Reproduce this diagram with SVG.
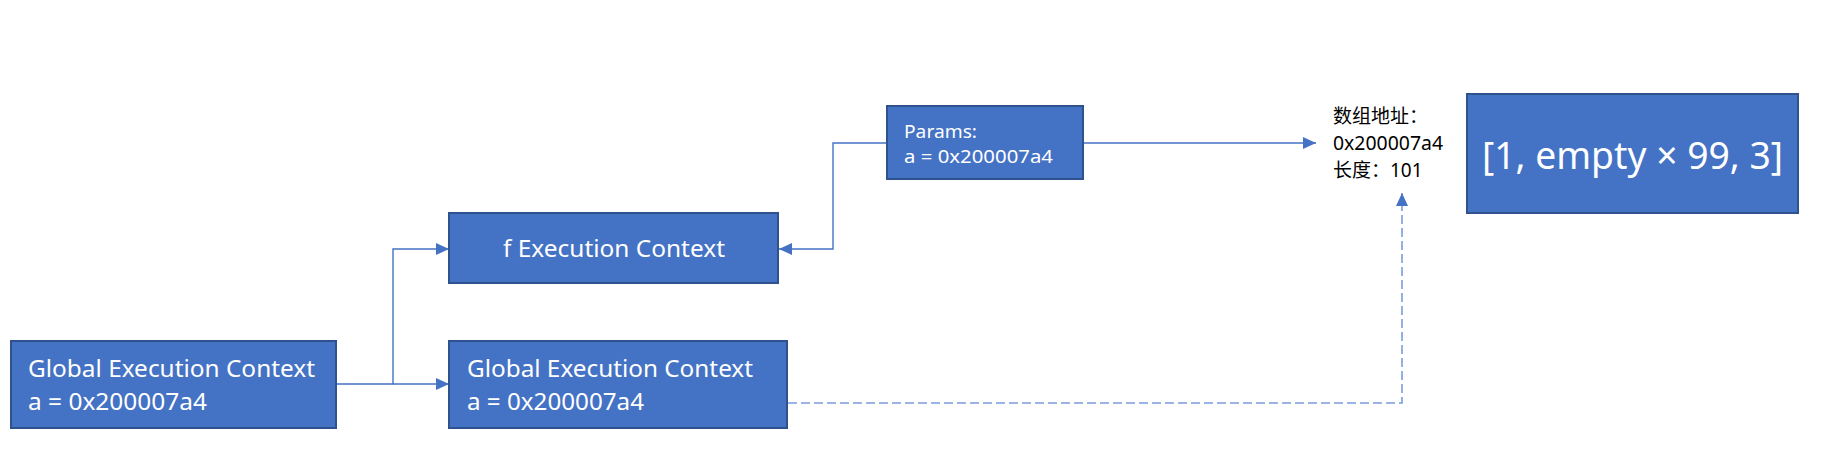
<svg xmlns="http://www.w3.org/2000/svg" width="1843" height="470" viewBox="0 0 1843 470">
<style>
.box{fill:#4472C4;stroke:#2F528F;stroke-width:2}
.t{fill:#FFFFFF;font-family:"Noto Sans","Liberation Sans","Noto Sans CJK SC",sans-serif}
.k{fill:#000000;font-family:"Noto Sans","Liberation Sans","Noto Sans CJK SC",sans-serif;font-size:19px}
.c{fill:none;stroke:#4472C4;stroke-width:1.4}
.d{fill:none;stroke:#7B9CDB;stroke-width:1.6;stroke-dasharray:9 4}
</style>
<defs>
<marker id="ah" markerWidth="13" markerHeight="12" refX="13" refY="6" orient="auto" markerUnits="userSpaceOnUse">
<path d="M0,0 L13,6 L0,12 Z" fill="#4472C4"/>
</marker>
</defs>
<rect width="1843" height="470" fill="#FFFFFF"/>
<g id="connectors">
<path class="c" d="M336,384 H393 V249 H449" marker-end="url(#ah)"/>
<path class="c" d="M393,384 H449" marker-end="url(#ah)"/>
<path class="c" d="M887,143 H833 V249 H779" marker-end="url(#ah)"/>
<path class="c" d="M1083,143 H1316" marker-end="url(#ah)"/>
<path class="d" d="M788,403 H1402 V193" marker-end="url(#ah)"/>
</g>
<g id="global1">
<rect class="box" x="11" y="341" width="325" height="87"/>
<text class="t" x="28" y="377" font-size="23" textLength="287" lengthAdjust="spacingAndGlyphs">Global Execution Context</text>
<text class="t" x="28" y="410" font-size="23" textLength="179" lengthAdjust="spacingAndGlyphs">a = 0x200007a4</text>
</g>
<g id="fctx">
<rect class="box" x="449" y="213" width="329" height="70"/>
<text class="t" x="503" y="257" font-size="23" textLength="222" lengthAdjust="spacingAndGlyphs">f Execution Context</text>
</g>
<g id="global2">
<rect class="box" x="449" y="341" width="338" height="87"/>
<text class="t" x="467" y="377" font-size="23" textLength="286" lengthAdjust="spacingAndGlyphs">Global Execution Context</text>
<text class="t" x="467" y="410" font-size="23" textLength="177" lengthAdjust="spacingAndGlyphs">a = 0x200007a4</text>
</g>
<g id="params">
<rect class="box" x="887" y="106" width="196" height="73"/>
<text class="t" x="904" y="138" font-size="18" textLength="73" lengthAdjust="spacingAndGlyphs">Params:</text>
<text class="t" x="904" y="163" font-size="18" textLength="149" lengthAdjust="spacingAndGlyphs">a = 0x200007a4</text>
</g>
<g id="addr">
<text class="k" x="1333" y="123">数组地址：</text>
<text class="k" x="1333" y="150" textLength="110" lengthAdjust="spacingAndGlyphs">0x200007a4</text>
<text class="k" x="1333" y="177">长度：101</text>
</g>
<g id="array">
<rect class="box" x="1467" y="94" width="331" height="119"/>
<text class="t" x="1482" y="169" font-size="39" textLength="301" lengthAdjust="spacingAndGlyphs">[1, empty × 99, 3]</text>
</g>
</svg>
